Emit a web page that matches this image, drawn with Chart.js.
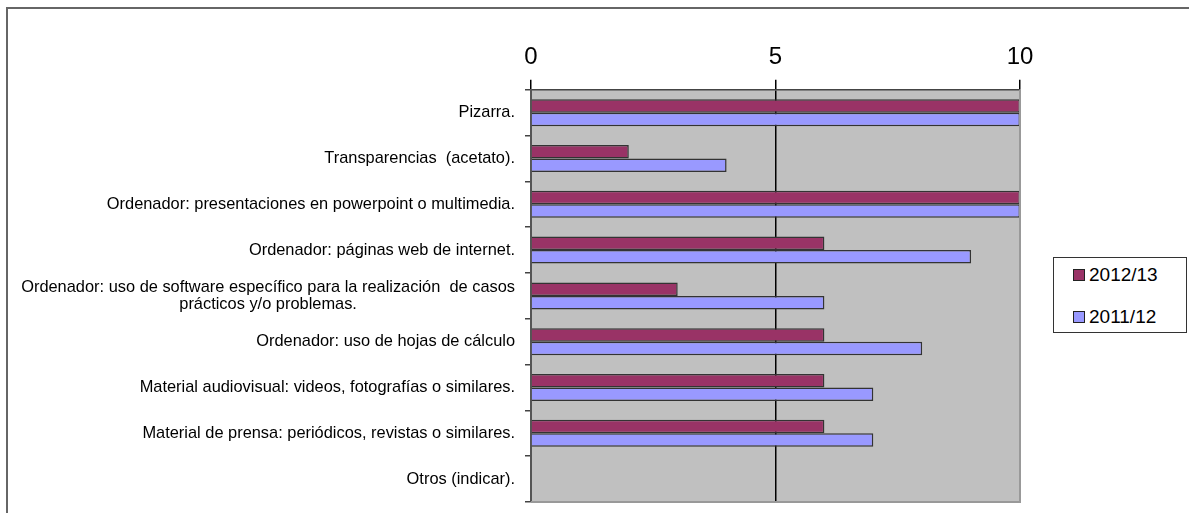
<!DOCTYPE html>
<html lang="es">
<head>
  <meta charset="UTF-8" />
  <title>Instrumentos de enseñanza presencial</title>
  <script src="https://cdn.jsdelivr.net/npm/chart.js"></script>
  <style>
    html, body { margin: 0; padding: 0; background: #fff; }
    .wrap { position: relative; width: 1189px; height: 513px; overflow: hidden; }
    .marco { position: absolute; left: 6px; top: 7px; width: 1300px; height: 600px;
             border-top: 2px solid #666; border-left: 2px solid #666; }
    #grafico { position: absolute; left: 0; top: 0; }
    .leyenda { position: absolute; left: 1053px; top: 257px; width: 132px; height: 74px;
               border: 1px solid #333; background: #fff;
               font: 19px "Liberation Sans", Arial, sans-serif; color: #000; }
    .leyenda div { position: absolute; left: 19px; height: 22px; line-height: 22px; }
    .leyenda span { display: inline-block; width: 10px; height: 10px; border: 1px solid #222;
                    margin-right: 4px; vertical-align: 0px; }
  </style>
</head>
<body>
  <div class="wrap">
    <div class="marco"></div>
    <canvas id="grafico" width="1189" height="513"></canvas>
    <div class="leyenda" id="leyenda"></div>
  </div>

  <script>
    // datos
    const categorias = [
      'Pizarra.',
      'Transparencias  (acetato).',
      'Ordenador: presentaciones en powerpoint o multimedia.',
      'Ordenador: páginas web de internet.',
      ['Ordenador: uso de software específico para la realización  de casos', 'prácticos y/o problemas.'],
      'Ordenador: uso de hojas de cálculo',
      'Material audiovisual: videos, fotografías o similares.',
      'Material de prensa: periódicos, revistas o similares.',
      'Otros (indicar).'
    ];
    const series = ['2012/13', '2011/12'];
    const valores2012 = [10, 2, 10, 6, 3, 6, 6, 6, 0];
    const valores2011 = [10, 4, 10, 9, 6, 8, 7, 7, 0];
    const marcasX = [0, 5, 10];

    const colores = ['#993366', '#9999FF'];

    // fondo gris del area de trazado y borde
    const fondoPlot = {
      id: 'fondoPlot',
      beforeDraw(chart) {
        const a = chart.chartArea, c = chart.ctx;
        c.save();
        c.fillStyle = '#C0C0C0';
        c.fillRect(a.left, a.top, a.right - a.left, a.bottom - a.top);
        c.restore();
      },
      afterDatasetsDraw(chart) {
        const a = chart.chartArea, c = chart.ctx;
        c.save();
        c.strokeStyle = '#999';
        c.lineWidth = 2;
        c.beginPath();
        c.moveTo(a.right, a.top);
        c.lineTo(a.right, a.bottom);
        c.lineTo(a.left, a.bottom);
        c.stroke();
        c.restore();
      }
    };

    // etiquetas del eje Y: bloque alineado a la derecha, lineas centradas entre si
    const etiquetasY = {
      id: 'etiquetasY',
      afterDraw(chart) {
        const esc = chart.scales.y, c = chart.ctx;
        const derecha = chart.chartArea.left - 16;
        c.save();
        c.font = '16.4px "Liberation Sans", Arial, sans-serif';
        c.fillStyle = '#000';
        c.textAlign = 'center';
        c.textBaseline = 'middle';
        categorias.forEach((et, i) => {
          const lineas = Array.isArray(et) ? et : [et];
          const anchoMax = Math.max(...lineas.map(l => c.measureText(l).width));
          const cx = derecha - anchoMax / 2;
          const y0 = esc.getPixelForTick(i) - (lineas.length - 1) * 17 / 2;
          lineas.forEach((l, k) => c.fillText(l, cx, y0 + k * 17));
        });
        c.restore();
      }
    };

    new Chart(document.getElementById('grafico'), {
      type: 'bar',
      data: {
        labels: categorias,
        datasets: [
          { label: series[0], data: valores2012, backgroundColor: colores[0] },
          { label: series[1], data: valores2011, backgroundColor: colores[1] }
        ]
      },
      options: {
        indexAxis: 'y',
        responsive: false,
        animation: false,
        layout: { padding: { left: 0, right: 169, top: 35, bottom: 11 } },
        datasets: {
          bar: {
            categoryPercentage: 0.59,
            barPercentage: 1,
            borderColor: '#333',
            borderWidth: 1.5
          }
        },
        plugins: {
          legend: { display: false },
          tooltip: { enabled: false }
        },
        scales: {
          x: {
            position: 'top',
            min: 0,
            max: 10,
            afterBuildTicks(scale) {
              scale.ticks = marcasX.map(v => ({ value: v }));
            },
            ticks: {
              padding: 8,
              color: '#000',
              font: { family: '"Liberation Sans", Arial, sans-serif', size: 24 }
            },
            grid: {
              color: ctx => (ctx.tick && ctx.tick.value === 5) ? '#000' : 'rgba(0,0,0,0)',
              tickColor: '#000',
              tickLength: 10,
              lineWidth: 1.5
            },
            border: { color: '#444', width: 1.5 }
          },
          y: {
            afterFit(scale) { scale.width = 531; },
            ticks: { display: false },
            grid: {
              offset: true,
              drawOnChartArea: false,
              tickColor: '#444',
              tickLength: 6,
              lineWidth: 1.5
            },
            border: { color: '#555', width: 2 }
          }
        }
      },
      plugins: [fondoPlot, etiquetasY]
    });

    // leyenda
    const leyenda = document.getElementById('leyenda');
    series.forEach((s, i) => {
      const d = document.createElement('div');
      d.style.top = (6 + i * 42) + 'px';
      d.innerHTML = '<span style="background:' + colores[i] + '"></span>' + s;
      leyenda.appendChild(d);
    });
  </script>
</body>
</html>
